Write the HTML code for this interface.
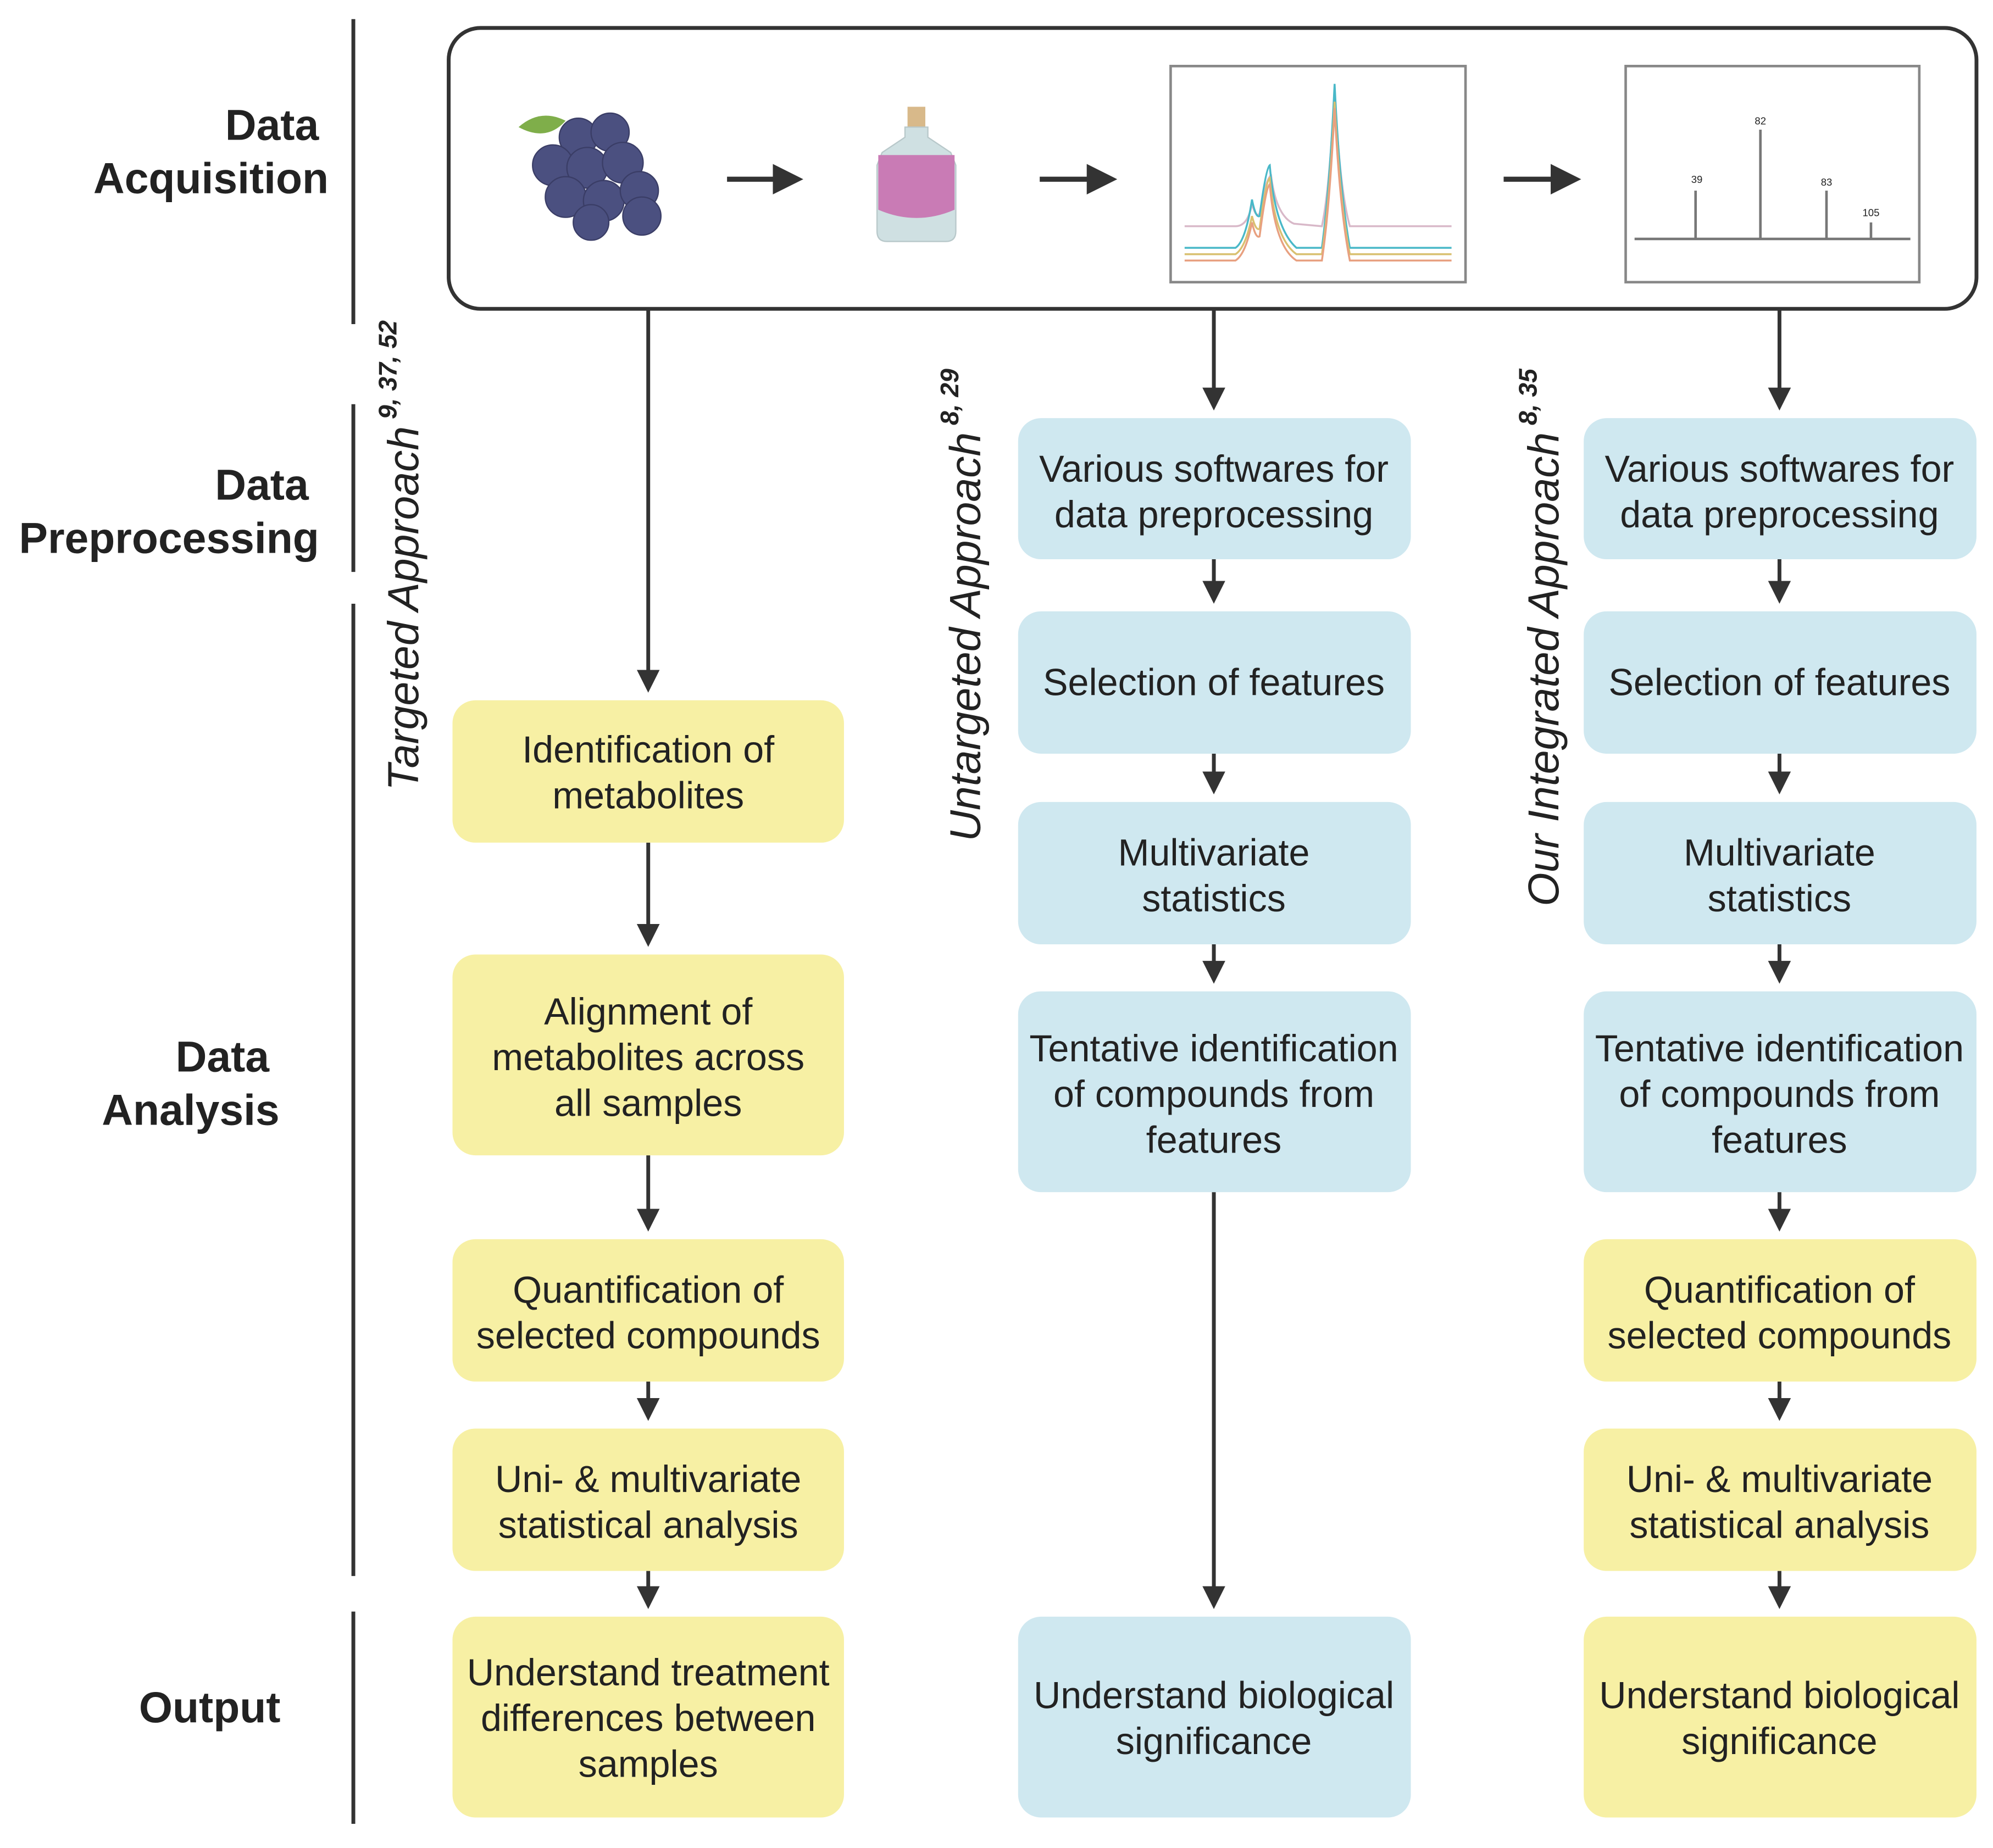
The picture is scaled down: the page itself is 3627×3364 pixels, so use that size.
<!DOCTYPE html>
<html><head><meta charset="utf-8"><style>
html,body{margin:0;padding:0;background:#fff;}
svg{display:block;}
text{font-family:"Liberation Sans",Arial,sans-serif;fill:#222;}
</style></head><body>
<svg width="3627" height="3364" viewBox="0 0 1568 1454" preserveAspectRatio="none" xmlns="http://www.w3.org/2000/svg">
<defs>
<marker id="ah" markerWidth="6" markerHeight="6" refX="5" refY="3" orient="auto" markerUnits="strokeWidth">
<path d="M0,0 L6,3 L0,6 z" fill="#333"/>
</marker>
</defs>
<g stroke="#333" stroke-width="3">
<line x1="278" y1="15" x2="278" y2="255"/>
<line x1="278" y1="318" x2="278" y2="450"/>
<line x1="278" y1="475" x2="278" y2="1240"/>
<line x1="278" y1="1268" x2="278" y2="1435"/>
</g>
<g font-weight="bold" font-size="34" text-anchor="middle">
<text x="214" y="110">Data</text>
<text x="166" y="152">Acquisition</text>
<text x="206" y="393">Data</text>
<text x="133" y="435">Preprocessing</text>
<text x="175" y="843">Data</text>
<text x="150" y="885">Analysis</text>
<text x="165" y="1355">Output</text>
</g>
<rect x="353" y="22" width="1202" height="221" rx="25" fill="#fff" stroke="#333" stroke-width="3"/>
<path d="M408,100 Q425,85 445,95 Q430,112 408,100z" fill="#7fae4a"/>
<g fill="#4b5080" stroke="#3a3d66" stroke-width="1">
<circle cx="455" cy="108" r="15"/><circle cx="480" cy="104" r="15"/>
<circle cx="435" cy="130" r="16"/><circle cx="462" cy="132" r="16"/><circle cx="490" cy="128" r="16"/>
<circle cx="445" cy="155" r="16"/><circle cx="475" cy="158" r="16"/><circle cx="503" cy="150" r="15"/>
<circle cx="465" cy="175" r="14"/><circle cx="505" cy="170" r="15"/>
</g>
<g stroke="#333" stroke-width="4" marker-end="url(#ah)">
<line x1="572" y1="141" x2="628" y2="141"/>
<line x1="818" y1="141" x2="875" y2="141"/>
<line x1="1183" y1="141" x2="1240" y2="141"/>
</g>
<rect x="714" y="84" width="14" height="16" fill="#d8b98a"/>
<path d="M712,100 L730,100 L730,108 L748,120 L752,130 L752,182 Q752,190 744,190 L698,190 Q690,190 690,182 L690,130 L694,120 L712,108z" fill="#cfe0e2" stroke="#b8c8ca"/>
<path d="M691,122 L751,122 L751,165 Q721,178 691,165z" fill="#c97bb5"/>
<rect x="921" y="52" width="232" height="170" fill="#fff" stroke="#888" stroke-width="2"/>
<g fill="none" stroke-width="1.5">
<path d="M932,178 L972,178 Q982,178 985,160 Q988,172 991,168 Q996,140 1000,138 Q1004,170 1018,176 L1040,178 Q1046,150 1050,70 Q1054,150 1062,178 L1142,178" stroke="#d8b8c8"/>
<path d="M932,195 L972,195 Q980,190 985,157 Q988,172 991,170 Q996,132 999,130 Q1003,180 1020,195 L1040,195 Q1046,150 1050,66 Q1054,150 1062,195 L1142,195" stroke="#49b8c8"/>
<path d="M932,200 L972,200 Q980,195 985,170 Q988,182 991,180 Q996,142 999,140 Q1003,188 1020,200 L1040,200 Q1046,160 1050,80 Q1054,160 1062,200 L1142,200" stroke="#d9c070"/>
<path d="M932,205 L972,205 Q980,200 985,175 Q988,188 991,186 Q996,147 999,145 Q1003,194 1020,205 L1040,205 Q1046,165 1050,85 Q1054,165 1062,205 L1142,205" stroke="#e8a080"/>
</g>
<rect x="1279" y="52" width="231" height="170" fill="#fff" stroke="#888" stroke-width="2"/>
<g stroke="#777" stroke-width="2">
<line x1="1286" y1="188" x2="1503" y2="188"/>
<line x1="1334" y1="188" x2="1334" y2="150"/>
<line x1="1385" y1="188" x2="1385" y2="102"/>
<line x1="1437" y1="188" x2="1437" y2="150"/>
<line x1="1472" y1="188" x2="1472" y2="175"/>
</g>
<g font-size="8" fill="#555" text-anchor="middle"><text x="1335" y="144">39</text><text x="1385" y="98">82</text><text x="1437" y="146">83</text><text x="1472" y="170">105</text></g>
<text transform="translate(329,622) rotate(-90)" font-size="34" font-style="italic">Targeted Approach<tspan font-size="20" font-weight="bold" dy="-17"> 9, 37, 52</tspan></text>
<text transform="translate(771,662) rotate(-90)" font-size="34" font-style="italic">Untargeted Approach<tspan font-size="20" font-weight="bold" dy="-17"> 8, 29</tspan></text>
<text transform="translate(1226,713) rotate(-90)" font-size="34" font-style="italic">Our Integrated Approach<tspan font-size="20" font-weight="bold" dy="-17"> 8, 35</tspan></text>
<g stroke="#333" stroke-width="3" marker-end="url(#ah)">
<line x1="510" y1="243" x2="510" y2="542"/>
<line x1="510" y1="663" x2="510" y2="742"/>
<line x1="510" y1="909" x2="510" y2="966"/>
<line x1="510" y1="1087" x2="510" y2="1115"/>
<line x1="510" y1="1236" x2="510" y2="1263"/>
<line x1="955" y1="243" x2="955" y2="320"/>
<line x1="955" y1="440" x2="955" y2="472"/>
<line x1="955" y1="593" x2="955" y2="622"/>
<line x1="955" y1="743" x2="955" y2="771"/>
<line x1="955" y1="938" x2="955" y2="1263"/>
<line x1="1400" y1="243" x2="1400" y2="320"/>
<line x1="1400" y1="440" x2="1400" y2="472"/>
<line x1="1400" y1="593" x2="1400" y2="622"/>
<line x1="1400" y1="743" x2="1400" y2="771"/>
<line x1="1400" y1="938" x2="1400" y2="966"/>
<line x1="1400" y1="1087" x2="1400" y2="1115"/>
<line x1="1400" y1="1236" x2="1400" y2="1263"/>
</g>
<g>
<rect x="356" y="551" width="308" height="112" rx="18" fill="#f7f0a4"/>
<rect x="356" y="751" width="308" height="158" rx="18" fill="#f7f0a4"/>
<rect x="356" y="975" width="308" height="112" rx="18" fill="#f7f0a4"/>
<rect x="356" y="1124" width="308" height="112" rx="18" fill="#f7f0a4"/>
<rect x="356" y="1272" width="308" height="158" rx="18" fill="#f7f0a4"/>
<rect x="801" y="329" width="309" height="111" rx="18" fill="#cfe8f0"/>
<rect x="801" y="481" width="309" height="112" rx="18" fill="#cfe8f0"/>
<rect x="801" y="631" width="309" height="112" rx="18" fill="#cfe8f0"/>
<rect x="801" y="780" width="309" height="158" rx="18" fill="#cfe8f0"/>
<rect x="801" y="1272" width="309" height="158" rx="18" fill="#cfe8f0"/>
<rect x="1246" y="329" width="309" height="111" rx="18" fill="#cfe8f0"/>
<rect x="1246" y="481" width="309" height="112" rx="18" fill="#cfe8f0"/>
<rect x="1246" y="631" width="309" height="112" rx="18" fill="#cfe8f0"/>
<rect x="1246" y="780" width="309" height="158" rx="18" fill="#cfe8f0"/>
<rect x="1246" y="975" width="309" height="112" rx="18" fill="#f7f0a4"/>
<rect x="1246" y="1124" width="309" height="112" rx="18" fill="#f7f0a4"/>
<rect x="1246" y="1272" width="309" height="158" rx="18" fill="#f7f0a4"/>
</g>
<g font-size="29.5" text-anchor="middle">
<text x="510" y="600">Identification of</text><text x="510" y="636">metabolites</text>
<text x="510" y="806">Alignment of</text><text x="510" y="842">metabolites across</text><text x="510" y="878">all samples</text>
<text x="510" y="1025">Quantification of</text><text x="510" y="1061">selected compounds</text>
<text x="510" y="1174">Uni- &amp; multivariate</text><text x="510" y="1210">statistical analysis</text>
<text x="510" y="1326">Understand treatment</text><text x="510" y="1362">differences between</text><text x="510" y="1398">samples</text>

<text x="955" y="379">Various softwares for</text><text x="955" y="415">data preprocessing</text>
<text x="955" y="547">Selection of features</text>
<text x="955" y="681">Multivariate</text><text x="955" y="717">statistics</text>
<text x="955" y="835">Tentative identification</text><text x="955" y="871">of compounds from</text><text x="955" y="907">features</text>
<text x="955" y="1344">Understand biological</text><text x="955" y="1380">significance</text>

<text x="1400" y="379">Various softwares for</text><text x="1400" y="415">data preprocessing</text>
<text x="1400" y="547">Selection of features</text>
<text x="1400" y="681">Multivariate</text><text x="1400" y="717">statistics</text>
<text x="1400" y="835">Tentative identification</text><text x="1400" y="871">of compounds from</text><text x="1400" y="907">features</text>
<text x="1400" y="1025">Quantification of</text><text x="1400" y="1061">selected compounds</text>
<text x="1400" y="1174">Uni- &amp; multivariate</text><text x="1400" y="1210">statistical analysis</text>
<text x="1400" y="1344">Understand biological</text><text x="1400" y="1380">significance</text>
</g>
</svg>
</body></html>
